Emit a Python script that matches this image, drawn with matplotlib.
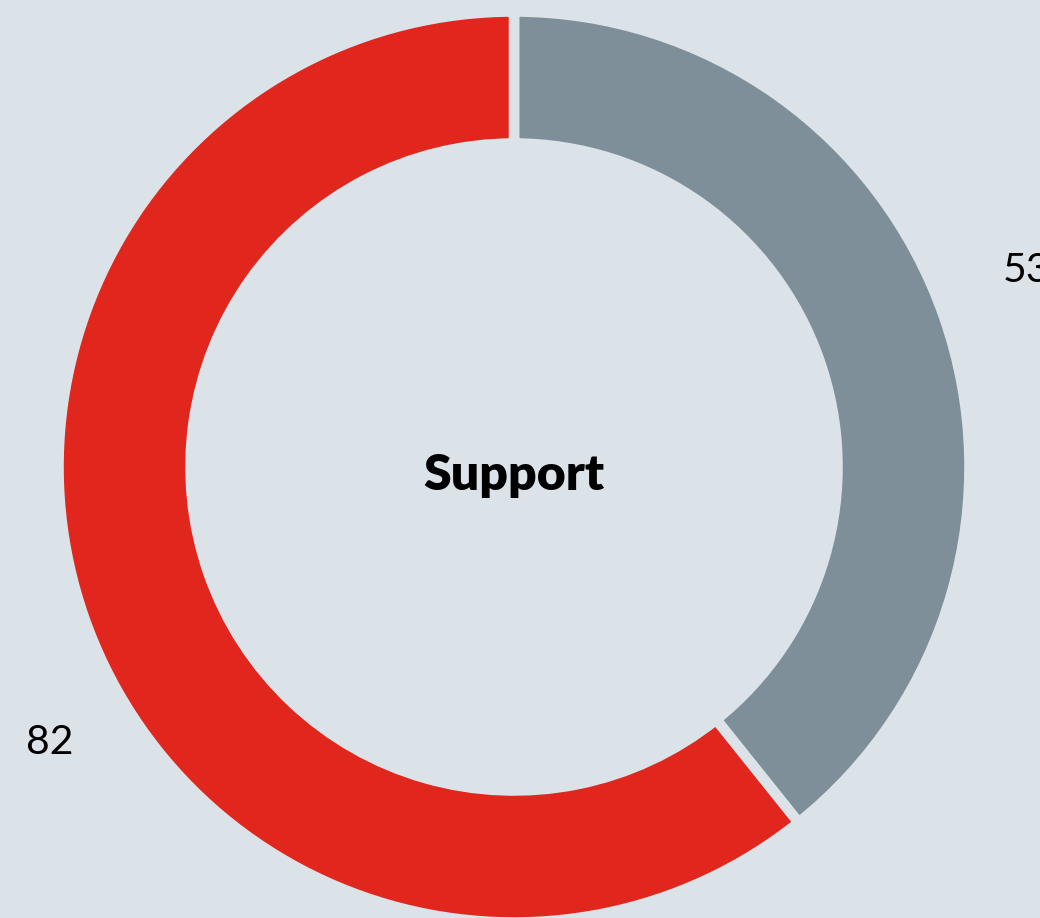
import matplotlib.pyplot as plt

# -------------------------
# DATA
# -------------------------
labels = ["Oppose", "Support"]
values = [53, 82]
colors = ["#7e8f99", "#e0261d"]
center_label = "Support"

bg = "#dbe2e8"

# -------------------------
# FIGURE (axes in pixel units)
# -------------------------
fig = plt.figure(figsize=(10.4, 9.18), dpi=100, facecolor=bg)
ax = fig.add_axes([0, 0, 1, 1])
ax.set_facecolor(bg)

cx, cy = 514, 918 - 467
outer, ring = 455.5, 132

wedges, _ = ax.pie(
    values,
    colors=colors,
    startangle=90,
    counterclock=False,
    center=(cx, cy),
    radius=outer,
    wedgeprops=dict(width=ring, edgecolor=bg, linewidth=7.6),
    frame=True,
)
ax.set_xlim(0, 1040)
ax.set_ylim(0, 918)
ax.set_aspect("equal")
ax.axis("off")

# value labels outside the ring
ax.text(1003, 918 - 271, str(values[0]), fontsize=29.5, family="Lato",
        ha="left", va="center", color="black")
ax.text(50, 918 - 743, str(values[1]), fontsize=29.5, family="Lato",
        ha="center", va="center", color="black")

ax.text(cx, cy - 8, center_label, fontsize=36, family="Lato",
        fontweight="heavy", ha="center", va="center", color="black")

fig.savefig("out.png", dpi=100, facecolor=bg)
